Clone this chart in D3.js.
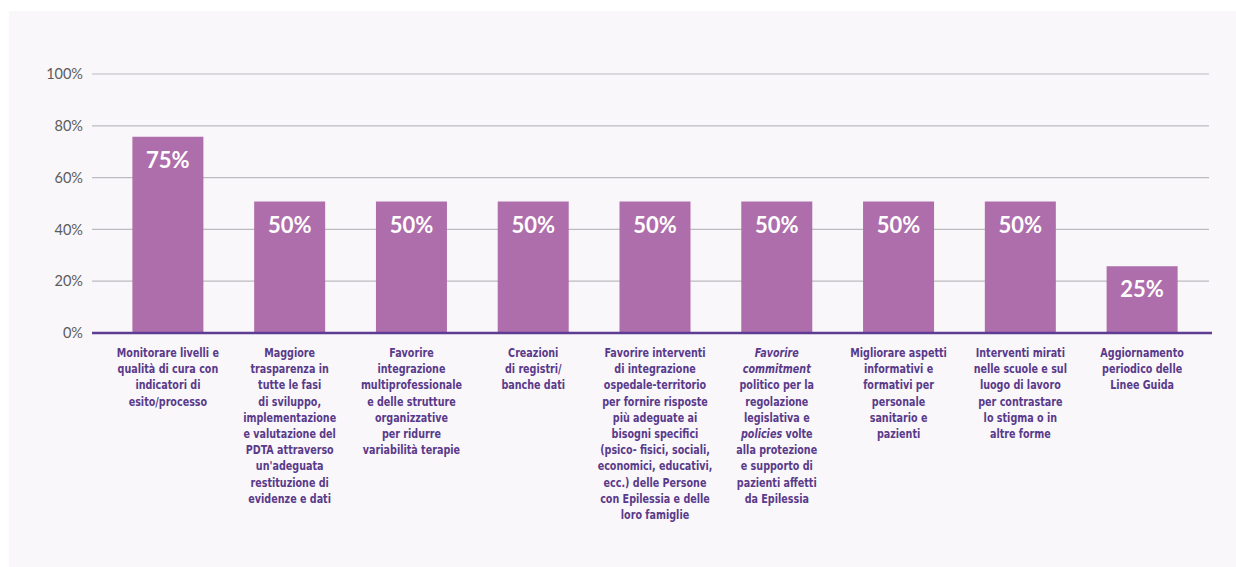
<!DOCTYPE html>
<html>
<head>
<meta charset="utf-8">
<script src="https://cdn.jsdelivr.net/npm/d3@7"></script>
<style>
  body { margin: 0; background: #fff; }
  svg { display: block; }
</style>
</head>
<body>
<script>
var w = 1236;
var h = 567;

// values shown on the bars
var values = [75, 50, 50, 50, 50, 50, 50, 50, 25];
var yTicks = [0, 20, 40, 60, 80, 100];

// category labels, one entry per line, *...* = italic
var categories = [
  ["Monitorare livelli e", "qualità di cura con", "indicatori di", "esito/processo"],
  ["Maggiore", "trasparenza in", "tutte le fasi", "di sviluppo,", "implementazione", "e valutazione del", "PDTA attraverso", "un'adeguata", "restituzione di", "evidenze e dati"],
  ["Favorire", "integrazione", "multiprofessionale", "e delle strutture", "organizzative", "per ridurre", "variabilità terapie"],
  ["Creazioni", "di registri/", "banche dati"],
  ["Favorire interventi", "di integrazione", "ospedale-territorio", "per fornire risposte", "più adeguate ai", "bisogni specifici", "(psico- fisici, sociali,", "economici, educativi,", "ecc.) delle Persone", "con Epilessia e delle", "loro famiglie"],
  ["*Favorire*", "*commitment*", "politico per la", "regolazione", "legislativa e", "*policies* volte", "alla protezione", "e supporto di", "pazienti affetti", "da Epilessia"],
  ["Migliorare aspetti", "informativi e", "formativi per", "personale", "sanitario e", "pazienti"],
  ["Interventi mirati", "nelle scuole e sul", "luogo di lavoro", "per contrastare", "lo stigma o in", "altre forme"],
  ["Aggiornamento", "periodico delle", "Linee Guida"]
];

var svg = d3.select("body")
  .append("svg")
  .attr("width", w)
  .attr("height", h);

// panel background
svg.append("rect")
  .attr("x", 9).attr("y", 11)
  .attr("width", w - 9).attr("height", h - 11)
  .attr("fill", "#f9f7fa");

var x = d3.scaleBand()
  .domain(d3.range(values.length))
  .range([107, 1203])
  .paddingInner(0.417)
  .paddingOuter(0.2085);

var y = d3.scaleLinear()
  .domain([0, 100])
  .range([333, 74]);

// gridlines
svg.append("g")
  .selectAll("line")
  .data(yTicks.filter(d => d > 0))
  .enter()
  .append("line")
  .attr("x1", 92).attr("x2", 1209)
  .attr("y1", d => y(d)).attr("y2", d => y(d))
  .attr("stroke", "#bdbbc0")
  .attr("stroke-width", 1.2);

// y axis labels
var yAxis = d3.axisLeft(y)
  .tickValues(yTicks)
  .tickFormat(d => d + "%")
  .tickSize(0)
  .tickPadding(0);

var ya = svg.append("g")
  .attr("transform", "translate(83,0)")
  .call(yAxis);
ya.select(".domain").remove();
ya.selectAll("text")
  .attr("fill", "#5c5c5c")
  .attr("font-family", "Lato, 'Open Sans', sans-serif")
  .attr("font-size", 14.5)
  .attr("font-weight", 400);

// bars
svg.append("g")
  .selectAll("rect")
  .data(values)
  .enter()
  .append("rect")
  .attr("x", (d, i) => x(i))
  .attr("y", d => y(d) - 2)
  .attr("width", x.bandwidth())
  .attr("height", d => y(0) - y(d) + 2)
  .attr("fill", "#ae6eab");

// baseline
svg.append("line")
  .attr("x1", 92).attr("x2", 1212)
  .attr("y1", y(0)).attr("y2", y(0))
  .attr("stroke", "#5e3c93")
  .attr("stroke-width", 2.5);

// value labels
svg.append("g")
  .selectAll("text")
  .data(values)
  .enter()
  .append("text")
  .attr("x", (d, i) => x(i) + x.bandwidth() / 2)
  .attr("y", d => y(d) + 29)
  .attr("text-anchor", "middle")
  .attr("fill", "#fff")
  .attr("font-family", "Lato, sans-serif")
  .attr("font-weight", 700)
  .attr("font-size", 22)
  .text(d => d + "%");

// category labels (condensed font squeezed a bit more to match)
var lab = svg.append("g")
  .selectAll("text")
  .data(categories)
  .enter()
  .append("text")
  .attr("text-anchor", "middle")
  .attr("fill", "#5a3a8a")
  .attr("font-family", "'DejaVu Sans Condensed', sans-serif")
  .attr("font-weight", 700)
  .attr("font-size", 13)
  .attr("transform", (d, i) => "translate(" + (x(i) + x.bandwidth() / 2) + ",357) scale(0.82,1)");

lab.each(function(lines) {
  var t = d3.select(this);
  lines.forEach(function(line, li) {
    var parts = line.split(/(\*[^*]+\*)/).filter(p => p.length);
    parts.forEach(function(p, pi) {
      var span = t.append("tspan");
      if (pi == 0) span.attr("x", 0).attr("y", li * 16.2);
      var italic = p[0] == "*";
      span.attr("font-style", italic ? "italic" : "normal")
        .text(italic ? p.slice(1, -1) : p);
    });
  });
});
</script>
</body>
</html>
